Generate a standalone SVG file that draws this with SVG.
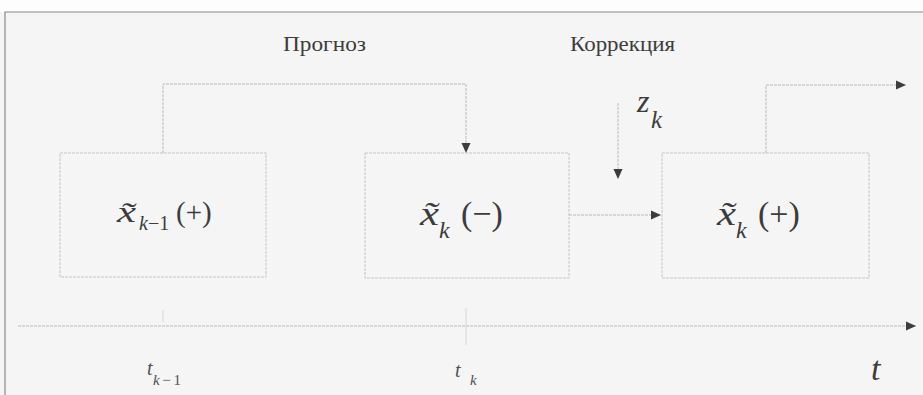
<svg xmlns="http://www.w3.org/2000/svg" width="923" height="395" viewBox="0 0 923 395">
  <defs>
    <marker id="arr" viewBox="0 0 10 10" refX="10" refY="5" markerWidth="10" markerHeight="10" markerUnits="userSpaceOnUse" orient="auto">
      <path d="M0,0.5 L10,5 L0,9.5 Z" fill="#3c3c3c"/>
    </marker>
  </defs>

  <rect x="0" y="0" width="923" height="395" fill="#f5f5f6"/>
  <rect x="0" y="0" width="923" height="12" fill="#fdfdfd"/>
  <path d="M5,395 L5,12 L923,12" fill="none" stroke="#8a8a8a" stroke-width="1.2"/>

  <g font-family="Liberation Serif" fill="#3c3c3c">
    <text x="283" y="51" font-size="22" textLength="83" lengthAdjust="spacingAndGlyphs">Прогноз</text>
    <text x="570" y="51" font-size="22" textLength="105" lengthAdjust="spacingAndGlyphs">Коррекция</text>
  </g>

  <g id="connectors" fill="none" stroke="#bdb5bd" stroke-width="1" stroke-dasharray="3 1">
    <path d="M163,153 L163,84 L466,84 L466,153" marker-end="url(#arr)"/>
    <path d="M618,103 L618,179" marker-end="url(#arr)"/>
    <path d="M569,215 L661,215" marker-end="url(#arr)"/>
    <path d="M766,153 L766,85 L906,85" marker-end="url(#arr)"/>
    <path d="M18,326 L916,326" marker-end="url(#arr)"/>
    <path d="M163,310 L163,322" stroke="#d6d6d6" stroke-dasharray="none"/>
    <path d="M466,308 L466,345" stroke="#d6d6d6" stroke-dasharray="none"/>
  </g>

  <g id="z_k" font-family="Liberation Serif" fill="#3c3c3c" font-style="italic">
    <text x="637" y="112" font-size="32">z</text>
    <text x="651" y="128" font-size="25">k</text>
  </g>

  <g id="node-prev" font-family="Liberation Serif" fill="#3c3c3c">
    <rect x="60" y="153" width="206" height="124" fill="none" stroke="#c9c2c9" stroke-dasharray="3 1"/>
    <text x="117" y="222" font-size="29" font-style="italic" textLength="19" lengthAdjust="spacingAndGlyphs">x̃</text>
    <text x="139" y="230" font-size="20"><tspan font-style="italic">k</tspan>−1</text>
    <text x="176" y="222" font-size="29">(+)</text>
  </g>

  <g id="node-predict" font-family="Liberation Serif" fill="#3c3c3c">
    <rect x="365" y="153" width="204" height="125" fill="none" stroke="#c9c2c9" stroke-dasharray="3 1"/>
    <text x="420" y="225" font-size="34" font-style="italic" textLength="19" lengthAdjust="spacingAndGlyphs">x̃</text>
    <text x="439" y="238" font-size="24" font-style="italic">k</text>
    <text x="461" y="225" font-size="34">(−)</text>
  </g>

  <g id="node-correct" font-family="Liberation Serif" fill="#3c3c3c">
    <rect x="662" y="153" width="207" height="125" fill="none" stroke="#c9c2c9" stroke-dasharray="3 1"/>
    <text x="717" y="225" font-size="34" font-style="italic" textLength="19" lengthAdjust="spacingAndGlyphs">x̃</text>
    <text x="736" y="238" font-size="24" font-style="italic">k</text>
    <text x="758" y="225" font-size="34">(+)</text>
  </g>

  <g id="time-labels" font-family="Liberation Serif" fill="#505050">
    <text x="147" y="375" font-size="20" font-style="italic">t</text>
    <text x="153" y="385" font-size="15" textLength="28"><tspan font-style="italic">k</tspan>−1</text>
    <text x="455" y="377" font-size="20" font-style="italic">t</text>
    <text x="470" y="385" font-size="15" font-style="italic">k</text>
    <text x="871" y="380" font-size="34" font-style="italic" fill="#3c3c3c">t</text>
  </g>
</svg>
